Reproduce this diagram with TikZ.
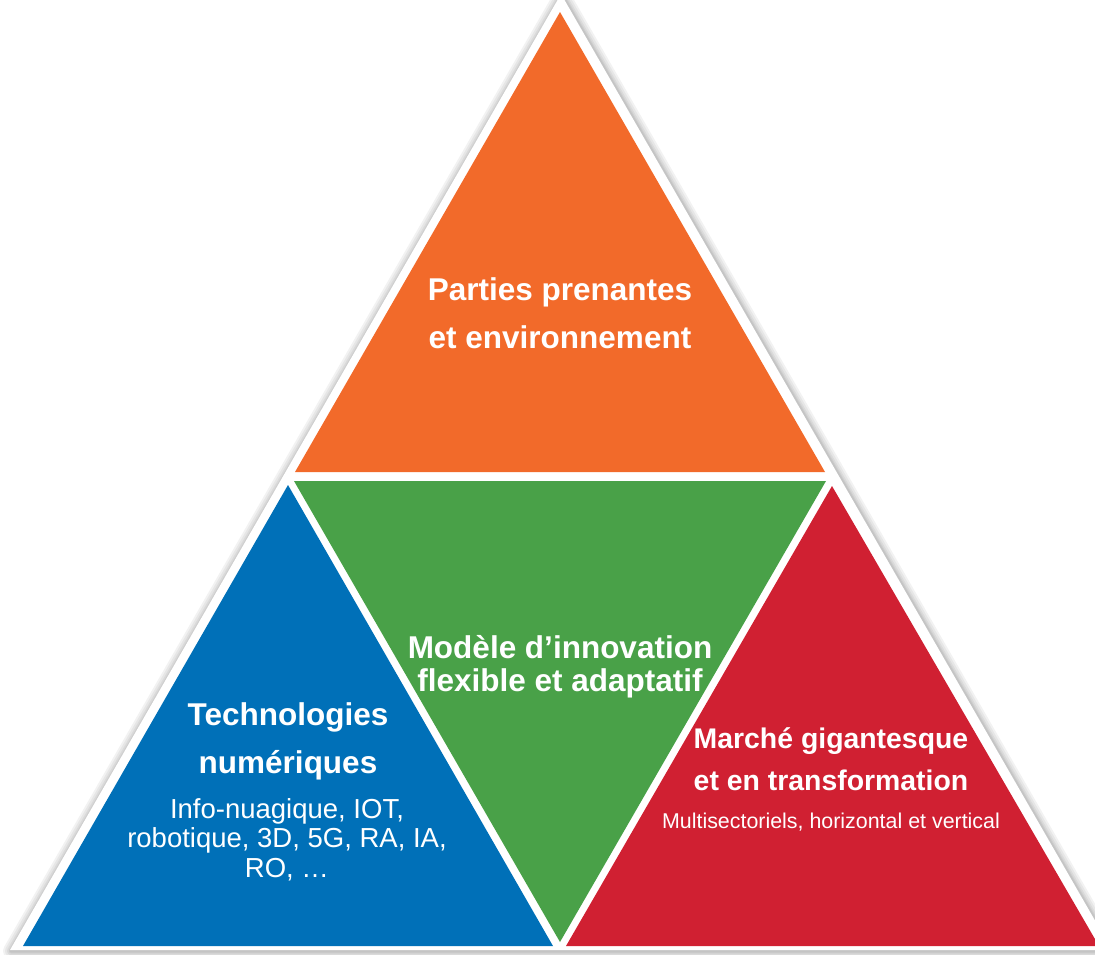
\documentclass[tikz,border=0pt]{standalone}
\usepackage{fontspec}
\setmainfont{Liberation Sans}
\definecolor{orangeT}{RGB}{242,106,42}
\definecolor{greenT}{RGB}{73,161,72}
\definecolor{blueT}{RGB}{0,112,184}
\definecolor{redT}{RGB}{208,32,50}
\begin{document}
\begin{tikzpicture}[x=1pt,y=-1pt,
  lbl/.style={text=white, inner sep=0pt, anchor=base},
  head/.style={lbl, font=\bfseries\fontsize{31.5}{36}\selectfont},
  headsm/.style={lbl, font=\bfseries\fontsize{28.4}{33}\selectfont},
  body/.style={lbl, font=\fontsize{27.5}{32}\selectfont},
  small/.style={lbl, font=\fontsize{21.4}{25}\selectfont}]
\useasboundingbox (0,0) rectangle (1095,954);

% soft shadow around the outer white frame
\coordinate (oA) at (561,-6);
\coordinate (oB) at (10,950);
\coordinate (oC) at (1112,950);
\foreach \w in {16,12,8,5,3}
  \draw[line width=\w pt, black, opacity=0.05, line join=round]
    ([shift={(1,1)}]oA) -- ([shift={(1,1)}]oB) -- ([shift={(1,1)}]oC) -- cycle;
\fill[white] (oA) -- (oB) -- (oC) -- cycle;

% the four triangles
\fill[orangeT] (560,12) -- (295,472) -- (825,472) -- cycle;
\fill[greenT]  (294,481) -- (826,481) -- (560,942) -- cycle;
\fill[blueT]   (288,485) -- (553,946) -- (23,946) -- cycle;
\fill[redT]    (832,486) -- (1099,946) -- (566,946) -- cycle;

% labels
\node[head] (p1) at (560,300) {Parties prenantes};
\node[head] (p2) at (560,348) {et environnement};

\node[head] (m1) at (560,658) {Modèle d’innovation};
\node[head] (m2) at (560,691) {flexible et adaptatif};

\node[head] (t1) at (288,725) {Technologies};
\node[head] (t2) at (288,773) {numériques};
\node[body] (t3) at (287,818) {Info-nuagique, IOT,};
\node[body] (t4) at (287,847) {robotique, 3D, 5G, RA, IA,};
\node[body] (t5) at (287,877) {RO, …};

\node[headsm] (c1) at (831,748) {Marché gigantesque};
\node[headsm] (c2) at (831,790) {et en transformation};
\node[small] (c3) at (831,828) {Multisectoriels, horizontal et vertical};
\end{tikzpicture}
\end{document}
